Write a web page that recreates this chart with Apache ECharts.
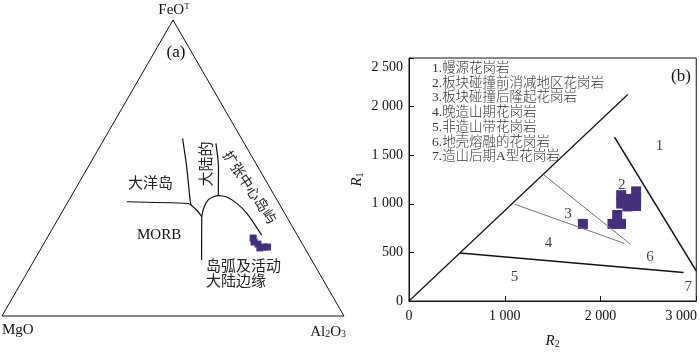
<!DOCTYPE html>
<html>
<head>
<meta charset="utf-8">
<script src="https://cdn.jsdelivr.net/npm/echarts@6/dist/echarts.min.js"></script>
<style>html,body{margin:0;padding:0;background:#fff;}#c{width:700px;height:354px;}</style>
</head>
<body>
<div id="c"></div>
<script>
// ---------- Panel (a): FeOT - MgO - Al2O3 ternary (values as [FeOT, MgO, Al2O3] %) ----------
const triangle = [[100,0,0],[0,100,0],[0,0,100],[100,0,0]];
const lineOceanMorb = [[38.6,44.2,17.2],[38.0,26.5,35.5],[37.5,26.0,36.5],[35.8,25.2,39.0],[33.6,24.8,41.6]];
const lineOceanCont = [[60.0,17.2,22.8],[50.4,20.8,28.8],[39.2,25.4,35.4],[37.5,26.0,36.5]];
const lineMorbArc = [[33.6,24.8,41.6],[18.9,32.2,48.9]];
const lineSpreadArc = [[33.6,24.8,41.6],[36.8,22.5,40.7],[39.2,20.1,40.7],[40.3,18.0,41.7],[40.7,16.4,42.9],[40.2,14.2,45.6],[38.0,12.3,49.6],[34.8,11.1,54.2],[31.2,10.7,58.1],[27.3,10.4,62.2]];
const lineContSpread = [[58.3,8.3,33.4],[50.4,11.5,38.1],[40.7,16.4,42.9]];
const samplesA = [[26.3,13.4,60.2],[25.0,13.8,61.2],[24.3,13.0,62.7],[23.0,13.1,63.9],[23.3,11.7,65.0],[23.3,10.7,66.0]];

// ---------- Panel (b): R1-R2 diagram ([R2, R1]) ----------
const xTicks = [0, 1000, 2000, 3000];
const yTicks = [0, 500, 1000, 1500, 2000, 2500];
const diagLine = [[0,0],[2285,2125]];
const line5 = [[531,493],[2868,292]];
const line1 = [[2146,1686],[3000,311]];
const line3Upper = [[1409,1297],[2313,584]];
const line3Lower = [[1104,995],[2250,593]];
const samplesB = [[1816,793],[2125,793],[2214,793],[2174,885],[2216,1089],[2216,1002],[2281,1051],[2281,973],[2372,1128],[2372,1051],[2372,978],[2323,1021]];
const regionLabels = [[2615,1589,'1'],[2221,1190,'2'],[1660,898,'3'],[1458,593,'4'],[1101,250,'5'],[2518,454,'6'],[2917,139,'7']];
const legendLines = ['1.幔源花岗岩','2.板块碰撞前消减地区花岗岩','3.板块碰撞后隆起花岗岩','4.晚造山期花岗岩','5.非造山带花岗岩','6.地壳熔融的花岗岩','7.造山后期A型花岗岩'];

const SERIF = '"Liberation Serif", "Times New Roman", serif';
const MIX = '"Liberation Serif", "Noto Sans CJK SC", serif';
const CJK = '"Noto Sans CJK SC", sans-serif';
const PURPLE = '#45307e';

function to2D(p) {
  const s = p[0] + p[1] + p[2];
  const f = p[0] / s, a = p[2] / s;
  return [a + f / 2, f * Math.sqrt(3) / 2];
}
function fmt(v) {
  if (v >= 1000) return Math.floor(v / 1000) + ' ' + String(v % 1000).padStart(3, '0');
  return String(v);
}
function tLine(data, w, smooth) {
  return {
    type: 'line', xAxisIndex: 0, yAxisIndex: 0, data: data.map(to2D),
    symbol: 'none', smooth: smooth || false, clip: false, silent: true,
    lineStyle: { color: '#111', width: w }
  };
}
function bLine(data, color, w) {
  return {
    type: 'line', xAxisIndex: 1, yAxisIndex: 1, data: data,
    symbol: 'none', clip: false, silent: true,
    lineStyle: { color: color, width: w }
  };
}

const chart = echarts.init(document.getElementById('c'), null, { renderer: 'canvas' });

const graphics = [];
function txt(x, y, text, size, font, opts) {
  graphics.push(Object.assign({
    type: 'text', x: x, y: y, silent: true,
    style: Object.assign({ text: text, fontSize: size, fontFamily: font, fill: '#111', align: 'left', verticalAlign: 'middle' }, (opts && opts.style) || {})
  }, opts && opts.rotation !== undefined ? { rotation: opts.rotation } : {}));
}
// Panel (a) texts
txt(174, 10, '{a|FeO}{s|T}', 15, SERIF, { style: { align: 'center', rich: {
  a: { fontSize: 15, fontFamily: SERIF, fill: '#111' },
  s: { fontSize: 9, fontFamily: SERIF, fill: '#111', verticalAlign: 'top', padding: [0, 0, 6, 0] } } } });
txt(176, 53, '(a)', 17, SERIF, { style: { align: 'center' } });
txt(2, 330, 'MgO', 15, SERIF);
txt(346, 332, '{a|Al}{s|2}{a|O}{s|3}', 15, SERIF, { style: { align: 'right', rich: {
  a: { fontSize: 15, fontFamily: SERIF, fill: '#111' },
  s: { fontSize: 10, fontFamily: SERIF, fill: '#111', verticalAlign: 'bottom', padding: [4, 0, 0, 0] } } } });
txt(128, 182, '大洋岛', 15, CJK, { style: { fill: '#222' } });
txt(137, 235, 'MORB', 15, SERIF);
txt(206, 265, '岛弧及活动', 15, CJK, { style: { fill: '#222' } });
txt(206, 280, '大陆边缘', 15, CJK, { style: { fill: '#222' } });
txt(205, 164, '大陆的', 15, CJK, { style: { align: 'center', fill: '#222' }, rotation: Math.PI / 2 });
txt(250, 187, '扩张中心岛屿', 14, CJK, { style: { align: 'center', fill: '#222' }, rotation: -0.98 });
// Panel (b) texts
legendLines.forEach(function (s, i) { txt(432, 68.5 + i * 14.7, s, 13.5, MIX, { style: { fill: '#333', fontWeight: 300 } }); });
txt(681, 77, '(b)', 17, SERIF, { style: { align: 'center' } });

const option = {
  animation: false,
  backgroundColor: '#fff',
  grid: [
    { left: 2, top: 20, width: 342, height: 296, show: false },
    { left: 409, top: 58, width: 288, height: 257, show: true, borderColor: '#111', borderWidth: 1, backgroundColor: 'transparent' }
  ],
  xAxis: [
    { gridIndex: 0, type: 'value', min: 0, max: 1, show: false },
    { gridIndex: 1, type: 'value', min: xTicks[0], max: xTicks[xTicks.length - 1], interval: xTicks[1] - xTicks[0],
      splitLine: { show: false },
      axisLine: { show: true, lineStyle: { color: '#111', width: 1 } },
      axisTick: { show: true, inside: true, length: 5, lineStyle: { color: '#111' } },
      axisLabel: { color: '#111', fontFamily: SERIF, fontSize: 14, margin: 8,
        formatter: function (v) { return v === 3000 ? '{r|3 000}' : fmt(v); },
        rich: { r: { fontFamily: SERIF, fontSize: 14, color: '#111', padding: [0, 30, 0, 0] } } },
      name: '{i|R}{s|2}', nameLocation: 'middle', nameGap: 33,
      nameTextStyle: { rich: {
        i: { fontFamily: SERIF, fontStyle: 'italic', fontSize: 15, color: '#111' },
        s: { fontFamily: SERIF, fontSize: 10, color: '#111', verticalAlign: 'bottom', padding: [5, 0, 0, 0] } } }
    }
  ],
  yAxis: [
    { gridIndex: 0, type: 'value', min: 0, max: Math.sqrt(3) / 2, show: false },
    { gridIndex: 1, type: 'value', min: yTicks[0], max: yTicks[yTicks.length - 1], interval: yTicks[1] - yTicks[0],
      splitLine: { show: false },
      axisLine: { show: true, lineStyle: { color: '#111', width: 1 } },
      axisTick: { show: true, inside: true, length: 5, lineStyle: { color: '#111' } },
      axisLabel: { color: '#111', fontFamily: SERIF, fontSize: 14, margin: 6,
        formatter: function (v) { return v === 2500 ? '{t|2 500}' : fmt(v); },
        rich: { t: { fontFamily: SERIF, fontSize: 14, color: '#111', padding: [18, 0, 0, 0] } } },
      name: '{i|R}{s|1}', nameLocation: 'middle', nameGap: 44,
      nameTextStyle: { rich: {
        i: { fontFamily: SERIF, fontStyle: 'italic', fontSize: 15, color: '#111' },
        s: { fontFamily: SERIF, fontSize: 10, color: '#111', verticalAlign: 'bottom', padding: [5, 0, 0, 0] } } }
    }
  ],
  graphic: graphics,
  series: [
    tLine(triangle, 1),
    tLine(lineOceanMorb, 1.2, 0.3),
    tLine(lineOceanCont, 1.2, 0.2),
    tLine(lineMorbArc, 1.2),
    tLine(lineSpreadArc, 1.2, 0.4),
    tLine(lineContSpread, 1.2, 0.2),
    { type: 'scatter', xAxisIndex: 0, yAxisIndex: 0, data: samplesA.map(to2D), symbol: 'rect', symbolSize: 7,
      itemStyle: { color: PURPLE, opacity: 1 }, silent: true },
    bLine(diagLine, '#111', 1.2),
    bLine(line5, '#111', 1.5),
    bLine(line1, '#111', 1.5),
    bLine(line3Upper, '#777', 1),
    bLine(line3Lower, '#777', 1),
    { type: 'scatter', xAxisIndex: 1, yAxisIndex: 1, data: samplesB, symbol: 'rect', symbolSize: 10,
      itemStyle: { color: PURPLE, opacity: 1 }, silent: true },
    { type: 'scatter', xAxisIndex: 1, yAxisIndex: 1, data: regionLabels, symbolSize: 0, silent: true,
      label: { show: true, position: 'inside', formatter: function (p) { return p.data[2]; },
        fontFamily: SERIF, fontSize: 15, color: '#111' } }
  ]
};
chart.setOption(option);
</script>
</body>
</html>
